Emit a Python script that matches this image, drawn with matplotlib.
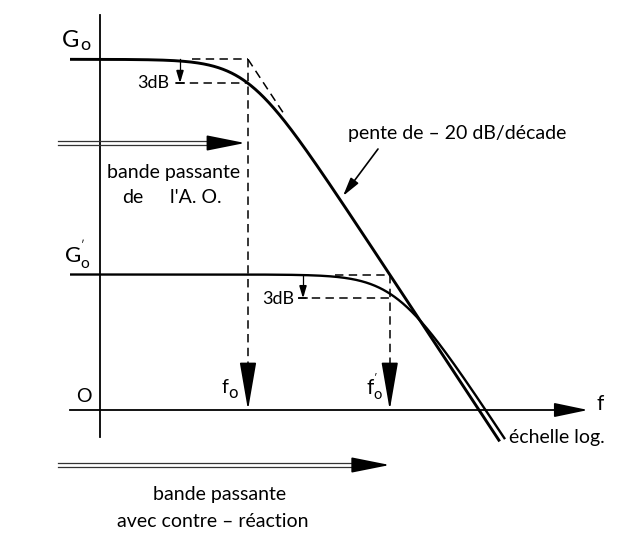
import numpy as np
import matplotlib
matplotlib.use("Agg")
import matplotlib.pyplot as plt

plt.rcParams['font.family'] = ['Lato', 'DejaVu Sans']
plt.rcParams['mathtext.fontset'] = 'custom'
plt.rcParams['mathtext.rm'] = 'Lato'
plt.rcParams['mathtext.it'] = 'Lato'

# Bode sketch (not to scale): op-amp open-loop gain and gain with feedback
G0 = 44.0            # dB, open-loop gain
G0_fb = 17.0         # dB, gain with feedback
f0 = 100.0           # Hz, open-loop cutoff
slope = -20.0        # dB/decade
drop = 3.0           # dB at each cutoff
f0_fb = f0 * 10 ** ((G0 - G0_fb) / -slope)

# sketch geometry: 105 px per decade, ~8 px per dB, f0 at x=248, 0 dB at y=410
PX_DEC = 105.0
PX_DB = 7.97


def X(px):
    return f0 * 10 ** ((px - 248) / PX_DEC)


def Y(py):
    return (410 - py) / PX_DB


def gain(f, g, fc):
    return g + slope / 2 * np.log10(1 + (f / fc) ** 2)


def asym(f, g, fc):
    return g + slope * np.log10(f / fc)


fig = plt.figure(figsize=(6.22, 5.37), dpi=100)
ax = fig.add_axes([0, 0, 1, 1])
ax.set_xscale('log')
ax.set_xlim(X(0), X(622))
ax.set_ylim(Y(537), Y(0))
ax.axis('off')

k = 'black'
dash = dict(color=k, lw=1.1, dashes=(5.5, 3.5))
fs = 14


def head(x_tip, y_tip, x_from, y_from, length=1.0, width=0.25, ms=20, color=k):
    ax.annotate('', xy=(x_tip, y_tip), xytext=(x_from, y_from),
                arrowprops=dict(arrowstyle=f'-|>,head_length={length},head_width={width}',
                                mutation_scale=ms, color=color, lw=1.2,
                                shrinkA=0, shrinkB=0))


# axes
ax.plot([X(100)] * 2, [Y(15), Y(437)], color=k, lw=1.3)
ax.plot([X(70), X(570)], [0, 0], color=k, lw=1.3)
head(X(588), 0, X(560), 0, length=1.05, width=0.22)

# response curves
f = np.logspace(np.log10(X(70)), np.log10(X(505)), 900)
g1 = gain(f, G0, f0)
m1 = g1 >= Y(442)
ax.plot(f[m1], g1[m1], color=k, lw=2.1, solid_capstyle='butt')

fc2 = f0_fb * 10 ** (7 / PX_DEC)   # drawn a little to the right, as in the sketch
g2 = gain(f, G0_fb, fc2)
m2 = g2 >= Y(444)
ax.plot(f[m2], g2[m2], color=k, lw=1.7, solid_capstyle='butt')

# construction lines around f0
ax.plot([X(192), f0], [G0, G0], **dash)
fa = np.logspace(np.log10(f0), np.log10(X(284)), 20)
ax.plot(fa, asym(fa, G0, f0), **dash)
ax.plot([X(176), f0], [G0 - drop] * 2, **dash)
ax.plot([f0, f0], [G0, Y(385)], **dash)
head(f0, 0, f0, Y(380), length=1.5, width=0.26)

# construction lines around f0'
ax.plot([X(335), f0_fb], [G0_fb, G0_fb], **dash)
ax.plot([X(298), f0_fb], [G0_fb - drop] * 2, **dash)
ax.plot([f0_fb, f0_fb], [G0_fb, Y(385)], **dash)
head(f0_fb, 0, f0_fb, Y(380), length=1.5, width=0.26)

# 3 dB markers
for xm, g in [(X(180), G0), (X(303), G0_fb)]:
    ax.plot([xm, xm], [g, g - drop + 0.6], color=k, lw=0.9)
    head(xm, g - drop, xm, g - drop + 1.2, length=0.5, width=0.15, ms=14)
    ax.plot([xm / 10 ** (4 / PX_DEC), xm * 10 ** (4 / PX_DEC)], [g - drop] * 2, color=k, lw=1.1)
ax.text(X(169), Y(88), '3dB', ha='right', va='baseline', fontsize=13)
ax.text(X(294), Y(304), '3dB', ha='right', va='baseline', fontsize=13)

# bandwidth arrows (double lines)
for y_mid, x_tip in [(Y(143), f0 / 10 ** (3 / PX_DEC)), (Y(465), f0_fb)]:
    for off in (-0.2, 0.2):
        ax.plot([X(58), x_tip / 10 ** (20 / PX_DEC)], [y_mid + off] * 2, color='#333333', lw=0.9)
    head(x_tip, y_mid, x_tip / 10 ** (24 / PX_DEC), y_mid, length=1.2, width=0.24)

# slope annotation
ax.text(X(348), Y(139), 'pente de \u2013 20 dB/décade', ha='left', va='baseline', fontsize=fs)
ax.annotate('', xy=(X(343), Y(196)), xytext=(X(378), Y(149)),
            arrowprops=dict(arrowstyle='-|>,head_length=0.7,head_width=0.18',
                            mutation_scale=16, color=k, lw=1.2, shrinkA=0, shrinkB=0))

# labels
ax.text(X(62), Y(47), 'G', fontsize=17, ha='left', va='baseline')
ax.text(X(80), Y(50), 'o', fontsize=13, ha='left', va='baseline')
ax.text(X(64), Y(263), r"$\mathrm{G}^{\mathrm{'}}_{\mathrm{o}}$", fontsize=16, ha='left', va='baseline')
ax.text(X(76), Y(402), 'O', fontsize=14, ha='left', va='baseline')
ax.text(X(222), Y(393), 'f', fontsize=14, ha='left', va='baseline')
ax.text(X(228), Y(398), 'o', fontsize=12, ha='left', va='baseline')
ax.text(X(366), Y(395), r"$\mathrm{f}^{\mathrm{'}}_{\mathrm{o}}$", fontsize=15, ha='left', va='baseline')
ax.text(X(597), Y(410), 'f', fontsize=15, ha='left', va='baseline')
ax.text(X(509), Y(443), 'échelle log.', fontsize=fs, ha='left', va='baseline')

ax.text(X(174), Y(178), 'bande passante', fontsize=fs, ha='center', va='baseline')
ax.text(X(122), Y(203), 'de', fontsize=fs, ha='left', va='baseline')
ax.text(X(170), Y(203), "l'A. O.", fontsize=fs, ha='left', va='baseline')
ax.text(X(220), Y(500), 'bande passante', fontsize=fs, ha='center', va='baseline')
ax.text(X(213), Y(527), 'avec contre \u2013 réaction', fontsize=fs, ha='center', va='baseline')

fig.savefig('out.png', dpi=100)
